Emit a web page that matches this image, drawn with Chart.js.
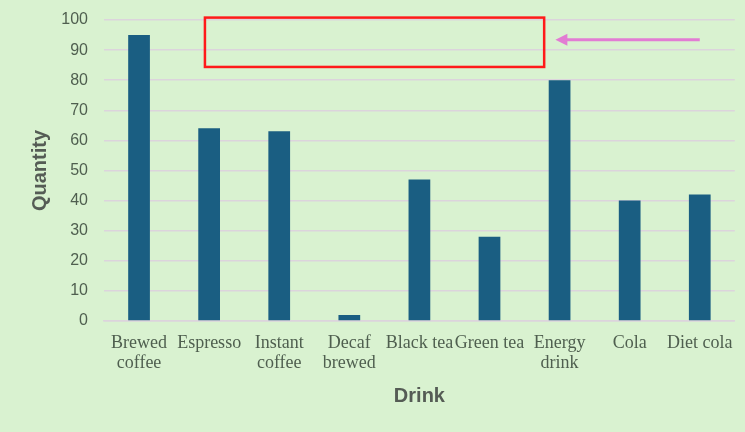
<!DOCTYPE html>
<html>
<head>
<meta charset="utf-8">
<script src="https://cdn.jsdelivr.net/npm/chart.js@4"></script>
<style>
html,body{margin:0;padding:0;background:#d9f2d0;}
#wrap{width:745px;height:432px;position:relative;}
</style>
</head>
<body>
<div id="wrap"><canvas id="c" width="745" height="432"></canvas></div>
<script>
const categories = [["Brewed","coffee"],"Espresso",["Instant","coffee"],["Decaf","brewed"],"Black tea","Green tea",["Energy","drink"],"Cola","Diet cola"];
const quantities = [95, 64, 63, 2, 47, 28, 80, 40, 42];
const yTicks = [0,10,20,30,40,50,60,70,80,90,100];
// annotation positions in data units (category index, value)
const boxX = [0.94, 5.78];
const boxY = [84.4, 100.8];
const arrowX = [8.0, 5.94];
const arrowY = 93.4;

const annot = {
  id: 'annot',
  afterDatasetsDraw(chart) {
    const {ctx, scales:{x, y}} = chart;
    ctx.save();
    ctx.strokeStyle = '#ff1a1a';
    ctx.lineWidth = 2.5;
    const x0 = x.getPixelForValue(boxX[0]), x1 = x.getPixelForValue(boxX[1]);
    const y0 = y.getPixelForValue(boxY[1]), y1 = y.getPixelForValue(boxY[0]);
    ctx.strokeRect(x0, y0, x1 - x0, y1 - y0);
    const ax0 = x.getPixelForValue(arrowX[0]), ax1 = x.getPixelForValue(arrowX[1]);
    const ay = y.getPixelForValue(arrowY);
    ctx.strokeStyle = '#e27cd3';
    ctx.fillStyle = '#e27cd3';
    ctx.lineWidth = 3;
    ctx.beginPath();
    ctx.moveTo(ax0, ay);
    ctx.lineTo(ax1 + 10, ay);
    ctx.stroke();
    ctx.beginPath();
    ctx.moveTo(ax1, ay);
    ctx.lineTo(ax1 + 12, ay - 6);
    ctx.lineTo(ax1 + 12, ay + 6);
    ctx.closePath();
    ctx.fill();
    ctx.restore();
  }
};

new Chart(document.getElementById('c'), {
  type: 'bar',
  data: {
    labels: categories,
    datasets: [{
      data: quantities,
      backgroundColor: '#1a5e82',
      barPercentage: 0.31,
      categoryPercentage: 1.0
    }]
  },
  options: {
    responsive: false,
    animation: false,
    devicePixelRatio: 1,
    layout: { padding: { left: 28, right: 9, top: 20, bottom: 24 } },
    plugins: { legend: { display: false }, tooltip: { enabled: false } },
    scales: {
      x: {
        afterFit(axis) { axis.height = 87; },
        grid: { display: false, drawTicks: false },
        border: { display: true, color: '#dcd4dc', width: 1.5 },
        ticks: {
          color: '#4f5f4f',
          font: { family: '"Liberation Serif", "Times New Roman", serif', size: 18, lineHeight: 1.12 },
          padding: 12,
          maxRotation: 0,
          autoSkip: false
        },
        title: {
          display: true,
          text: 'Drink',
          color: '#555c55',
          font: { family: '"Liberation Sans", Arial, sans-serif', size: 20, weight: 'bold' },
          padding: { top: 0, bottom: 0 }
        }
      },
      y: {
        min: 0,
        max: 100,
        afterFit(axis) { axis.width = 76; axis.paddingTop = 0; axis.paddingBottom = 0; },
        afterBuildTicks(axis) { axis.ticks = yTicks.map(v => ({ value: v })); },
        grid: { color: '#dcd4dc', lineWidth: 1.5, drawTicks: false },
        border: { display: false },
        ticks: {
          color: '#4f5f4f',
          font: { family: '"Liberation Sans", Arial, sans-serif', size: 16 },
          padding: 16
        },
        title: {
          display: true,
          text: 'Quantity',
          color: '#555c55',
          font: { family: '"Liberation Sans", Arial, sans-serif', size: 20, weight: 'bold' },
          padding: { top: 0, bottom: 0 }
        }
      }
    }
  },
  plugins: [annot]
});
</script>
</body>
</html>
